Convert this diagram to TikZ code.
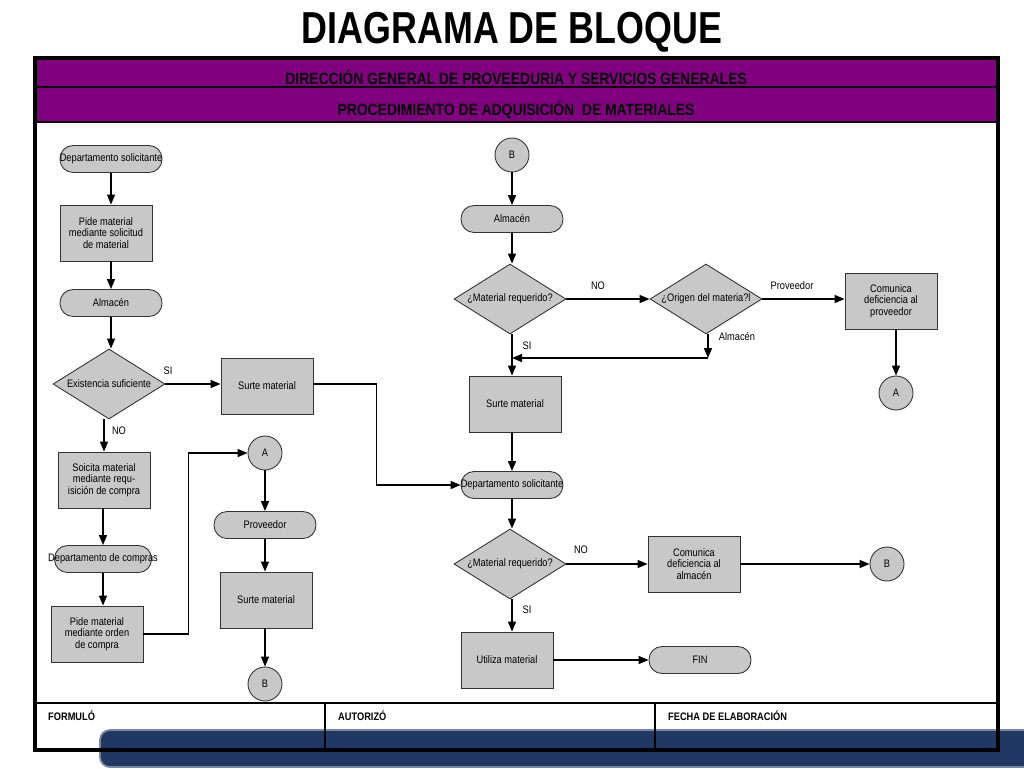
\documentclass[tikz,border=0pt]{standalone}
\usepackage{fontspec}
\setmainfont{Liberation Sans}[FakeStretch=0.85]
\newfontfamily\titlefont{Liberation Sans}[FakeStretch=0.8]
\usetikzlibrary{positioning}
\usetikzlibrary{shapes}
\usetikzlibrary{arrows.meta}
\newcommand{\nodo}{\fontsize{6.2}{6.6}\selectfont}

\begin{document}
\begin{tikzpicture}[x=0.02cm,y=-0.02cm,
	caja/.style={draw=black!80,fill=grisc,line width=0.5pt,minimum width=1.84cm,minimum height=1.12cm,inner sep=0pt,align=center,font=\nodo},
	term/.style={draw=black!80,fill=grisc,line width=0.5pt,rounded corners=0.26cm,minimum width=2.04cm,minimum height=0.54cm,inner sep=0pt,font=\nodo},
	rombo/.style={diamond,draw=black!80,fill=grisc,line width=0.5pt,minimum width=2.24cm,minimum height=1.4cm,inner sep=0pt,font=\nodo},
	conec/.style={circle,draw=black!80,fill=grisc,line width=0.5pt,minimum size=0.68cm,inner sep=0pt,font=\nodo},
	etq/.style={font=\nodo},
	cabecera/.style={font=\fontsize{9.3}{9.5}\selectfont\bfseries,text=black},
	flecha/.style={line width=0.8pt,-{Triangle[length=0.2cm,width=0.16cm]}}]
	\definecolor{grisc}{RGB}{200,200,200}
	\definecolor{morado}{RGB}{128,0,128}
	\definecolor{azulb}{RGB}{31,56,100}
	\useasboundingbox (0,0) rectangle (1024,768);

	% barra azul y marco
	\fill[azulb,draw=azulb!60!white,line width=1pt,rounded corners=0.2cm] (100,730) rectangle (1060,767);
	\fill[morado] (35,59) rectangle (998,122);
	\draw[line width=1.2pt] (35,87) -- (998,87);
	\draw[line width=1.2pt] (35,122) -- (998,122);
	\draw[line width=1.2pt] (35,703) -- (998,703);
	\draw[line width=0.8pt] (325,703) -- (325,750);
	\draw[line width=0.8pt] (655,703) -- (655,750);
	\draw[line width=1.8pt] (35,58) rectangle (998,750);

	\node[font=\titlefont\fontsize{25.5}{26}\selectfont\bfseries] (titulo) at (512,32) {DIAGRAMA DE BLOQUE};
	\node[cabecera] (direccion) at (516,77) {DIRECCIÓN GENERAL DE PROVEEDURIA Y SERVICIOS GENERALES};
	\node[cabecera] (procedimiento) at (516,110) {PROCEDIMIENTO DE ADQUISICIÓN~ DE MATERIALES};
	\node[font=\nodo\bfseries,anchor=west] (formulo) at (42,716) {FORMULÓ};
	\node[font=\nodo\bfseries,anchor=west] (autorizo) at (332,716) {AUTORIZÓ};
	\node[font=\nodo\bfseries,anchor=west] (fecha) at (662,716) {FECHA DE ELABORACIÓN};

	% columna izquierda
	\node[term] (dsol1) at (111,159) {\makebox[0pt]{Departamento solicitante}};
	\node[caja] (pide1) at (106,233) {Pide material\\mediante solicitud\\de material};
	\node[term] (alm1) at (111,303) {Almacén};
	\node[rombo] (exist) at (109,384) {\makebox[0pt]{Existencia suficiente}};
	\node[caja] (surte1) at (267,386) {Surte material};
	\node[caja] (solic) at (104,480) {Soicita material\\mediante requ-\\isición de compra};
	\node[term,minimum width=1.94cm] (dcomp) at (103,559) {\makebox[0pt]{Departamento de compras}};
	\node[caja] (pide2) at (97,634) {Pide material\\mediante orden\\de compra};
	\node[etq] (si1) at (168,371) {SI};
	\node[etq] (no1) at (119,431) {NO};

	\draw[flecha] (dsol1.south) -- (dsol1.south |- pide1.north);
	\draw[flecha] (pide1.south -| alm1) -- (alm1.north);
	\draw[flecha] (alm1.south) -- (alm1.south |- exist.north);
	\draw[flecha] (exist.east) -- (exist.east -| surte1.west);
	\draw[flecha] (exist.south -| solic) -- (solic.north);
	\draw[flecha] (solic.south -| dcomp) -- (dcomp.north);
	\draw[flecha] (dcomp.south) -- (dcomp.south |- pide2.north);

	% columna A
	\node[conec] (conA1) at (265,453) {A};
	\node[term] (prov) at (265,525) {Proveedor};
	\node[caja] (surte2) at (266,600) {Surte material};
	\node[conec] (conB1) at (265,684) {B};

	\draw[flecha] (pide2.east) -- ++(45,0) |- (conA1.west);
	\draw[flecha] (conA1) -- (prov);
	\draw[flecha] (prov) -- (prov |- surte2.north);
	\draw[flecha] (surte2.south -| conB1) -- (conB1.north);

	% columna central
	\node[conec] (conB2) at (512,155) {B};
	\node[term] (alm2) at (512,219) {Almacén};
	\node[rombo] (matreq1) at (510,299) {\makebox[0pt]{¿Material requerido?}};
	\node[rombo] (origen) at (706,299) {\makebox[0pt]{¿Origen del materia?l}};
	\node[caja] (comprov) at (891,301) {Comunica\\deficiencia al\\proveedor};
	\node[conec] (conA2) at (896,393) {A};
	\node[caja] (surte3) at (515,404) {Surte material};
	\node[term] (dsol2) at (512,485) {\makebox[0pt]{Departamento solicitante}};
	\node[rombo] (matreq2) at (510,564) {\makebox[0pt]{¿Material requerido?}};
	\node[caja] (comalm) at (694,564) {Comunica\\deficiencia al\\almacén};
	\node[conec] (conB3) at (887,564) {B};
	\node[caja] (utiliza) at (507,660) {Utiliza material};
	\node[term] (fin) at (700,660) {FIN};
	\coordinate (codo) at (708,358);

	\node[etq] (no2) at (598,286) {NO};
	\node[etq] (provlbl) at (792,286) {Proveedor};
	\node[etq] (almlbl) at (737,337) {Almacén};
	\node[etq] (si2) at (527,346) {SI};
	\node[etq] (no3) at (581,550) {NO};
	\node[etq] (si3) at (527,610) {SI};

	\draw[flecha] (conB2) -- (alm2);
	\draw[flecha] (alm2.south) -- (alm2.south |- matreq1.north);
	\draw[flecha] (matreq1.east) -- (origen.west);
	\draw[flecha] (origen.east) -- (origen.east -| comprov.west);
	\draw[flecha] (comprov.south -| conA2) -- (conA2.north);
	\draw[flecha] (origen.south -| codo) -- (codo);
	\draw[flecha] (codo) -- (codo -| alm2);
	\draw[flecha] (alm2 |- matreq1.south) -- (alm2 |- surte3.north);
	\draw[flecha] (surte1.east |- exist.east) -- ++(63,0) |- (dsol2.west);
	\draw[flecha] (alm2 |- surte3.south) -- (dsol2.north);
	\draw[flecha] (dsol2.south) -- (dsol2.south |- matreq2.north);
	\draw[flecha] (matreq2.east) -- (matreq2.east -| comalm.west);
	\draw[flecha] (comalm.east) -- (conB3.west);
	\draw[flecha] (alm2 |- matreq2.south) -- (alm2 |- utiliza.north);
	\draw[flecha] (utiliza.east) -- (fin.west);
\end{tikzpicture}
\end{document}
